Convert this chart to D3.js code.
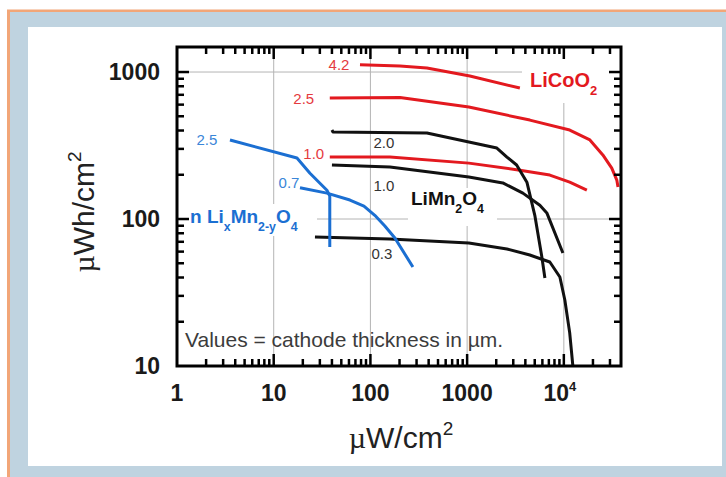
<!DOCTYPE html>
<html>
<head>
<meta charset="utf-8">
<script src="https://cdn.jsdelivr.net/npm/d3@7"></script>
<style>
  body { margin: 0; background: #fff; }
  svg { display: block; font-family: "Liberation Sans", Arial, sans-serif; }
</style>
</head>
<body>
<div id="fig"></div>
<script>
// axis ticks
var xTicks = [1, 10, 100, 1000, 10000];
var yTicks = [10, 100, 1000];

// LiCoO2 curves, cathode thickness in um  [uW/cm2, uWh/cm2]
var licooThick = ["4.2", "2.5", "1.0"];
var licooCurves = [
  [[78,1120],[202,1100],[384,1065],[1067,940],[3510,778]],
  [[38,665],[202,670],[1042,578],[4450,471],[11500,403],[18600,345],[25300,273],[31300,222],[35300,184],[36300,165]],
  [[38,264],[159,264],[1042,240],[3510,215],[7160,199],[11500,178],[17300,157]]
];

// LiMn2O4 curves
var limnThick = ["2.0", "1.0", "0.3"];
var limnCurves = [
  [[40,403],[41,391],[384,385],[1042,334],[2030,304],[2580,264],[3250,233],[4150,178],[5010,106],[5930,55],[6370,39.7]],
  [[40,233],[159,226],[1042,193],[2340,176],[3770,150],[5650,124],[6670,110],[9780,58.7]],
  [[26.7,75.4],[159,73.1],[1042,68.7],[2580,62.5],[4450,56.9],[7160,51],[9100,40.3],[10240,28.1],[11500,16.8],[12400,10]]
];

// nano LixMn2-yO4 curves
var nanoThick = ["2.5", "0.7"];
var nanoCurves = [
  [[3.53,345],[17.4,260],[23.7,205],[35.5,157],[38,143],[38,64.5]],
  [[18.7,163],[35.5,150],[61.4,134.6],[85.7,122.5],[111,106],[141,89.6],[179,74.3],[275,47.1]]
];

var W = 726, H = 477;
var svg = d3.select("#fig").append("svg")
    .attr("width", W)
    .attr("height", H);

// frame of the slide
svg.append("rect").attr("x", 7).attr("y", 9.5).attr("width", W - 7).attr("height", H - 9.5).attr("fill", "#f2a678");
svg.append("rect").attr("x", 10).attr("y", 12).attr("width", W - 10).attr("height", H - 12).attr("fill", "#bfd3e0");
svg.append("rect").attr("x", 28).attr("y", 27).attr("width", 694).attr("height", 439).attr("fill", "#fff");

var x = d3.scaleLog().domain([1, 39000]).range([177, 621]);
var y = d3.scaleLog().domain([10, 1480]).range([366, 47]);

// grid
var grid = svg.append("g").attr("stroke", "#b4b4b4").attr("stroke-width", 1);
grid.selectAll(".gx").data(xTicks.slice(1)).enter().append("line")
    .attr("x1", d => x(d)).attr("x2", d => x(d))
    .attr("y1", y.range()[1]).attr("y2", y.range()[0]);
grid.selectAll(".gy").data(yTicks.slice(1)).enter().append("line")
    .attr("y1", d => y(d)).attr("y2", d => y(d))
    .attr("x1", x.range()[0]).attr("x2", x.range()[1]);

// white boxes behind the big labels
var boxes = [[522, 58, 97, 45], [408, 188, 89, 38], [179, 204, 138, 32]];
svg.selectAll(".box").data(boxes).enter().append("rect")
    .attr("x", d => d[0]).attr("y", d => d[1])
    .attr("width", d => d[2]).attr("height", d => d[3])
    .attr("fill", "#fff");

var line = d3.line().x(d => x(d[0])).y(d => y(d[1]));

function drawSet(curves, thick, color, labColor, offs) {
  var g = svg.append("g");
  g.selectAll("path").data(curves).enter().append("path")
      .attr("d", line)
      .attr("fill", "none")
      .attr("stroke", color)
      .attr("stroke-width", 3)
      .attr("stroke-linejoin", "round");
  g.selectAll("text").data(curves).enter().append("text")
      .attr("x", (d, i) => x(d[0][0]) + offs[i][0])
      .attr("y", (d, i) => y(d[0][1]) + offs[i][1])
      .attr("text-anchor", "middle")
      .attr("dominant-baseline", "central")
      .attr("font-size", 15)
      .attr("fill", labColor)
      .text((d, i) => thick[i]);
}

drawSet(licooCurves, licooThick, "#e3191f", "#e53a3e", [[-21, 0], [-26, 0], [-16, -4]]);
drawSet(limnCurves, limnThick, "#111", "#333", [[52, 12], [52, 20], [67, 16]]);
drawSet(nanoCurves, nanoThick, "#1b6fd2", "#3a86d8", [[-23, 0], [-11, -5]]);

// big labels
function chem(px, py, parts, color, size) {
  var t = svg.append("text").attr("x", px).attr("y", py)
      .attr("font-size", size).attr("font-weight", "bold").attr("fill", color);
  var shift = 0;
  parts.forEach(function (p) {
    var sub = p[1];
    var dy = sub ? 8 - shift : -shift;
    shift = sub ? 8 : 0;
    t.append("tspan").attr("dy", dy)
        .attr("font-size", sub ? size * 0.65 : size)
        .text(p[0]);
  });
}
chem(530, 87, [["LiCoO", 0], ["2", 1]], "#e3191f", 20);
chem(411, 205, [["LiMn", 0], ["2", 1], ["O", 0], ["4", 1]], "#111", 19);
chem(190, 223, [["n Li", 0], ["x", 1], ["Mn", 0], ["2-y", 1], ["O", 0], ["4", 1]], "#1b6fd2", 19);

svg.append("text").attr("x", 185).attr("y", 347)
    .attr("font-size", 21).attr("fill", "#3c3c3c")
    .text("Values = cathode thickness in µm.");

// axes: frame + inward ticks on all four sides
var x0 = x.range()[0], x1 = x.range()[1], y0 = y.range()[0], y1 = y.range()[1];
var ax = svg.append("g").attr("stroke", "#000");
var xt = x.ticks().filter(d => d > 1 && d < 39000);
var yt = y.ticks().filter(d => d > 10 && d < 1480);
function isMajor(d) { return Math.abs(Math.log10(d) - Math.round(Math.log10(d))) < 1e-6; }
function len(d) { return isMajor(d) ? 12 : 7; }

xt.forEach(function (d) {
  ax.append("line").attr("x1", x(d)).attr("x2", x(d)).attr("y1", y0).attr("y2", y0 - len(d)).attr("stroke-width", 2.5);
  ax.append("line").attr("x1", x(d)).attr("x2", x(d)).attr("y1", y1).attr("y2", y1 + len(d)).attr("stroke-width", 2.5);
});
yt.forEach(function (d) {
  ax.append("line").attr("y1", y(d)).attr("y2", y(d)).attr("x1", x0).attr("x2", x0 + len(d)).attr("stroke-width", 2.5);
  ax.append("line").attr("y1", y(d)).attr("y2", y(d)).attr("x1", x1).attr("x2", x1 - len(d)).attr("stroke-width", 2.5);
});
ax.append("rect").attr("x", x0).attr("y", y1).attr("width", x1 - x0).attr("height", y0 - y1)
    .attr("fill", "none").attr("stroke-width", 3);

// tick labels
svg.selectAll(".yl").data(yTicks).enter().append("text")
    .attr("x", 160).attr("y", d => y(d))
    .attr("text-anchor", "end").attr("dominant-baseline", "central")
    .attr("font-size", 23).attr("font-weight", "bold").attr("fill", "#1a1a1a")
    .text(d => d);

var xl = svg.selectAll(".xl").data(xTicks).enter().append("text")
    .attr("x", d => d === 10000 ? x(d) - 4 : x(d)).attr("y", 401)
    .attr("text-anchor", "middle")
    .attr("font-size", 23).attr("font-weight", "bold").attr("fill", "#1a1a1a");
xl.each(function (d) {
  var t = d3.select(this);
  if (d === 10000) {
    t.append("tspan").text("10");
    t.append("tspan").attr("dy", -10).attr("font-size", 13).text("4");
  } else {
    t.text(d);
  }
});

// axis titles
var yt2 = svg.append("text")
    .attr("transform", "translate(94,212) rotate(-90)")
    .attr("text-anchor", "middle").attr("font-size", 30).attr("fill", "#222");
yt2.append("tspan").attr("font-family", "Liberation Serif").text("µ");
yt2.append("tspan").text("Wh/cm");
yt2.append("tspan").attr("dy", -13).attr("font-size", 19).text("2");

var xt2 = svg.append("text")
    .attr("x", 401).attr("y", 448)
    .attr("text-anchor", "middle").attr("font-size", 30).attr("fill", "#222");
xt2.append("tspan").attr("font-family", "Liberation Serif").text("µ");
xt2.append("tspan").text("W/cm");
xt2.append("tspan").attr("dy", -13).attr("font-size", 19).text("2");
</script>
</body>
</html>
